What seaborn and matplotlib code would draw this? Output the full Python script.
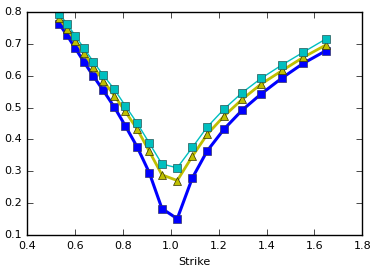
import matplotlib
matplotlib.use('Agg')
import matplotlib.pyplot as plt
import pandas as pd
import seaborn as sns

# strikes and the three curves
strike = [0.534, 0.567, 0.601, 0.637, 0.676, 0.718, 0.764, 0.810, 0.860, 0.910,
          0.963, 1.027, 1.090, 1.152, 1.223, 1.298, 1.377, 1.466, 1.553, 1.648]
blue_vals = [0.763, 0.727, 0.687, 0.644, 0.600, 0.554, 0.502, 0.443, 0.376, 0.296,
             0.183, 0.151, 0.279, 0.364, 0.433, 0.492, 0.543, 0.594, 0.639, 0.679]
yellow_vals = [0.781, 0.747, 0.711, 0.672, 0.629, 0.585, 0.538, 0.488, 0.432, 0.363,
               0.289, 0.271, 0.347, 0.416, 0.474, 0.526, 0.574, 0.617, 0.658, 0.697]
cyan_vals = [0.795, 0.763, 0.726, 0.687, 0.645, 0.602, 0.558, 0.506, 0.451, 0.389,
             0.323, 0.311, 0.375, 0.439, 0.496, 0.547, 0.592, 0.635, 0.674, 0.716]

df = pd.DataFrame({'Strike': strike, 'blue': blue_vals,
                   'yellow': yellow_vals, 'cyan': cyan_vals})

plt.style.use('classic')
plt.rcParams['font.size'] = 8

fig = plt.figure(figsize=(3.77, 2.71), dpi=100)
ax = fig.add_axes([0.072, 0.133, 0.889, 0.822])

sns.lineplot(data=df, x='Strike', y='blue', ax=ax, color='b', lw=2.2,
             marker='s', markersize=5.5, markeredgecolor='#333366', markeredgewidth=0.5)
sns.lineplot(data=df, x='Strike', y='yellow', ax=ax, color='y', lw=2,
             marker='^', markersize=5.5, markeredgecolor='#333300', markeredgewidth=0.5)
sns.lineplot(data=df, x='Strike', y='cyan', ax=ax, color='c', lw=1,
             marker='s', markersize=5.5, markeredgecolor='#225555', markeredgewidth=0.5)

ax.set_xlim(0.4, 1.8)
ax.set_ylim(0.1, 0.8)
ax.set_xlabel('Strike', fontsize=8)
ax.set_ylabel('')
ax.tick_params(labelsize=8)

fig.savefig('out.png', dpi=100)
